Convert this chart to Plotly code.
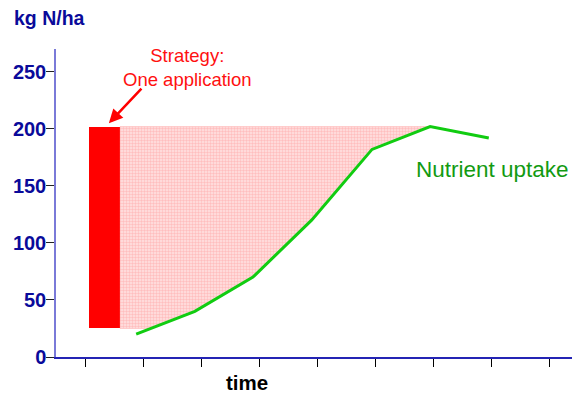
import plotly.graph_objects as go

# Data
tick_positions = [1, 2, 3, 4, 5, 6, 7, 8, 9]
y_ticks = [0, 50, 100, 150, 200, 250]

app_x = 1.335          # application bar center (time units)
app_width = 0.53
app_base = 25
app_top = 202

uptake_x = [1.88, 2.89, 3.89, 4.90, 5.94, 6.94, 7.95]
uptake_y = [20, 40, 70, 120, 182, 202, 192]

# Derived shaded region (excess N between application level and uptake)
bar_right = app_x + app_width / 2
peak_i = uptake_y.index(max(uptake_y))
x0, y0, x1, y1 = uptake_x[0], uptake_y[0], uptake_x[1], uptake_y[1]
x_cross = x0 + (app_base - y0) / (y1 - y0) * (x1 - x0)
poly_x = [bar_right, uptake_x[peak_i]] + uptake_x[peak_i - 1:0:-1] + [x_cross, bar_right]
poly_y = [app_top, app_top] + uptake_y[peak_i - 1:0:-1] + [app_base, app_base]

FONT = "Liberation Sans, Arial, sans-serif"
BLUE = "#0a0a9a"

fig = go.Figure()

fig.add_trace(go.Scatter(
    x=poly_x, y=poly_y, mode="lines", fill="toself",
    fillcolor="#ffd6d6", line=dict(color="rgba(255,180,180,0.6)", width=1),
    fillpattern=dict(shape=".", fgcolor="#ff9999", bgcolor="#ffe2e2", size=3, solidity=0.5),
    hoverinfo="skip", showlegend=False))

fig.add_trace(go.Bar(
    x=[app_x], y=[app_top - app_base], base=[app_base], width=[app_width],
    marker=dict(color="#ff0000", line=dict(width=0)), showlegend=False))

fig.add_trace(go.Scatter(
    x=uptake_x, y=uptake_y, mode="lines",
    line=dict(color="#11cc11", width=3), showlegend=False))

fig.add_annotation(x=1.41, y=205, ax=34, ay=-36, xref="x", yref="y",
                   showarrow=True, arrowhead=2, arrowsize=1.1, arrowwidth=2.5,
                   arrowcolor="#ff0000", text="")
fig.add_annotation(x=2.76, y=254, xref="x", yref="y", showarrow=False,
                   text="Strategy:<br>One application", align="center",
                   font=dict(family=FONT, size=18.5, color="#ff1010"),
                   xanchor="center", yanchor="middle")
fig.add_annotation(x=6.67, y=164, xref="x", yref="y", showarrow=False,
                   text="Nutrient uptake", xanchor="left", yanchor="middle",
                   font=dict(family=FONT, size=22.5, color="#129a12"))
fig.add_annotation(x=-0.084, y=1.10, xref="paper", yref="paper", showarrow=False,
                   text="<b>kg N/ha</b>", xanchor="left", yanchor="middle",
                   font=dict(family=FONT, size=19.5, color=BLUE))
fig.add_annotation(x=3.79, y=-0.083, xref="x", yref="paper", showarrow=False,
                   text="<b>time</b>", xanchor="center", yanchor="middle",
                   font=dict(family=FONT, size=20.5, color="#000000"))

fig.update_xaxes(range=[0.5, 9.52], tickvals=tick_positions, ticktext=[""] * len(tick_positions),
                 ticks="outside", ticklen=8, tickcolor="#000000", tickwidth=1,
                 showline=True, linecolor="#2424b4", linewidth=2, automargin=False,
                 showgrid=False, zeroline=False, fixedrange=True)
fig.update_yaxes(range=[0, 270], tickvals=y_ticks, automargin=False,
                 ticks="outside", ticklen=8, tickcolor="#222222", tickwidth=1,
                 showline=True, linecolor="#7a7ad8", linewidth=1.5,
                 showgrid=False, zeroline=False, ticklabelstandoff=-4,
                 tickfont=dict(family=FONT, size=20, color=BLUE, weight="bold"))

# page body has an 8px default margin, so the figure is sized to end at the window edge
fig.update_layout(width=572, height=388, margin=dict(l=48, r=0, t=41, b=38.5, autoexpand=False),
                  plot_bgcolor="white", paper_bgcolor="white", bargap=0)

fig.write_html("out.html")
